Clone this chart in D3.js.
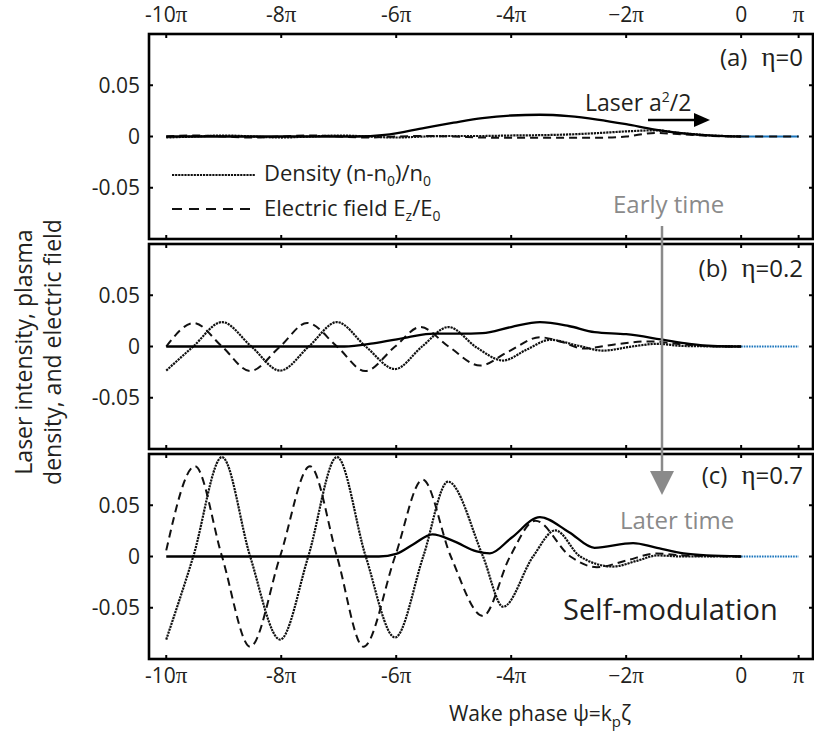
<!DOCTYPE html>
<html><head><meta charset="utf-8">
<script src="https://cdn.jsdelivr.net/npm/d3@7"></script>
<style>
body{margin:0;background:#fff}
svg{display:block}
text{font-family:'Open Sans',sans-serif;fill:#231f20}
</style>
</head><body>
<svg id="c" width="814" height="736"></svg>
<script>
// ---------- DATA (psi in units of pi) ----------
const xTicks = [-10, -8, -6, -4, -2, 0, 1];
const xTickLabels = ["-10", "-8", "-6", "-4", "\u22122", "0", ""];
const yTicks = [-0.05, 0, 0.05];
const yTickLabels = ["-0.05", "0", "0.05"];
const panelNames = ["(a)", "(b)", "(c)"];
const etaValues = ["0", "0.2", "0.7"];

// panel (a) eta = 0
const psiLaserA = [-10, -6.7, -6.2, -5.5, -5.0, -4.5, -4.0, -3.5, -3.0, -2.5, -2.0, -1.5, -1.0, -0.5, 0];
const laserA    = [0, 0, 0.0015, 0.0085, 0.0135, 0.018, 0.0205, 0.0212, 0.0198, 0.0165, 0.012, 0.0068, 0.003, 0.0008, 0];
const psiDensA  = [-10, -9.5, -9, -8.5, -8, -7.5, -7, -6.5, -6, -5.5, -5, -4.5, -4, -3.5, -3, -2.5, -2, -1.5, -1, -0.5, 0];
const densA     = [-0.001, 0, 0.001, 0, -0.001, 0, 0.001, 0, -0.001, 0, 0.0005, 0.0005, 0.001, 0.0013, 0.002, 0.0033, 0.005, 0.006, 0.003, 0.001, 0];
const psiEfA    = [-10, -9.5, -9, -8.5, -8, -7.5, -7, -6.5, -6, -5.5, -5, -4.5, -4, -3.5, -3, -2.5, -2, -1.5, -1, -0.5, 0];
const efA       = [0, 0.001, 0, -0.001, 0, 0.001, 0, -0.001, 0, 0.0005, 0, -0.001, -0.0013, -0.0013, -0.0013, -0.0012, 0.0, 0.0035, 0.002, 0.0005, 0];

// panel (b) eta = 0.2
const psiLaserB = [-10, -6.9, -6.4, -5.8, -5.35, -4.9, -4.5, -4.0, -3.5, -3.0, -2.55, -2.0, -1.4, -0.9, -0.5, 0];
const laserB    = [0, 0, 0.003, 0.009, 0.0125, 0.0125, 0.013, 0.019, 0.0238, 0.02, 0.014, 0.012, 0.007, 0.0025, 0.0005, 0];
const psiDensB  = [-10, -9.53, -9.03, -8.52, -8.02, -7.52, -7.03, -6.53, -6.02, -5.55, -5.09, -4.6, -4.14, -3.73, -3.32, -2.85, -2.4, -1.9, -1.46, -1.0, 0];
const densB     = [-0.0235, 0, 0.0238, 0, -0.0235, 0, 0.0238, 0, -0.022, 0, 0.019, -0.001, -0.0137, -0.003, 0.0066, 0.001, -0.004, 0, 0.0026, 0.0005, 0];
const psiEfB    = [-10, -9.52, -9.03, -8.54, -8.02, -7.55, -7.03, -6.54, -6.02, -5.58, -5.09, -4.54, -4.05, -3.5, -3.1, -2.75, -2.2, -1.6, -1.0, -0.5, 0];
const efB       = [0, 0.0229, 0, -0.024, 0, 0.023, 0, -0.024, 0, 0.019, 0, -0.0186, -0.005, 0.009, 0.004, -0.002, 0.002, 0.005, 0.002, 0.0003, 0];

// panel (c) eta = 0.7
const psiLaserC = [-10, -6.3, -6.0, -5.7, -5.37, -5.0, -4.6, -4.37, -4.0, -3.5, -3.0, -2.55, -1.88, -1.5, -1.0, -0.6, 0];
const laserC    = [0, 0, 0.0026, 0.012, 0.0216, 0.015, 0.005, 0.003, 0.018, 0.0385, 0.024, 0.0085, 0.013, 0.009, 0.003, 0.001, 0];
const psiDensC  = [-10, -9.53, -9.03, -8.54, -8.02, -7.53, -7.03, -6.53, -6.02, -5.53, -5.1, -4.49, -4.14, -3.62, -3.23, -2.8, -2.23, -1.8, -1.46, -1.0, 0];
const densC     = [-0.081, 0, 0.097, 0, -0.081, 0, 0.097, 0, -0.079, 0, 0.073, 0, -0.049, 0, 0.0255, 0, -0.0098, -0.004, 0.001, 0, 0];
const psiEfC    = [-10.0, -9.5, -9.03, -8.54, -8.02, -7.5, -7.03, -6.57, -6.02, -5.54, -5.05, -4.49, -4.02, -3.58, -2.97, -2.51, -2.0, -1.47, -1.0, 0];
const efC       = [0.006, 0.088, 0, -0.088, 0, 0.088, 0, -0.088, 0, 0.075, 0, -0.058, 0, 0.035, 0, -0.0105, -0.004, 0.003, 0.001, 0];

// tail beyond psi = 0
const psiTail = [0, 1];
const tailVal = [0, 0];

// ---------- LAYOUT ----------
const svg = d3.select("#c");
const x = d3.scaleLinear().domain([-10.3, 1.25]).range([149, 813]);
const panelTops = [34, 244, 454];
const PH = 205;
const zip = (a, b) => a.map((v, i) => [v, b[i]]);

const panels = [
  {laser: zip(psiLaserA, laserA), dens: zip(psiDensA, densA), ef: zip(psiEfA, efA)},
  {laser: zip(psiLaserB, laserB), dens: zip(psiDensB, densB), ef: zip(psiEfB, efB)},
  {laser: zip(psiLaserC, laserC), dens: zip(psiDensC, densC), ef: zip(psiEfC, efC)}
];

const densStyle = s => s.attr("fill", "none").attr("stroke", "#111").attr("stroke-width", 2.2).attr("stroke-dasharray", "2.2,0.9");

panels.forEach((p, i) => {
  const top = panelTops[i];
  const y = d3.scaleLinear().domain([-0.1, 0.1]).range([top + PH, top]);
  const line = d3.line().x(d => x(d[0])).y(d => y(d[1])).curve(d3.curveMonotoneX);
  const g = svg.append("g");
  const tail = zip(psiTail, tailVal);

  // blue tail
  if (i === 0) {
    g.append("path").attr("d", line(tail)).attr("fill", "none")
      .attr("stroke", "#1a75bc").attr("stroke-width", 2);
    g.append("path").attr("d", line(tail)).attr("fill", "none")
      .attr("stroke", "#111").attr("stroke-width", 2).attr("stroke-dasharray", "8,6");
  } else {
    g.append("path").attr("d", line(tail)).attr("fill", "none")
      .attr("stroke", "#1a75bc").attr("stroke-width", 2).attr("stroke-dasharray", "1.6,1");
  }

  g.append("path").attr("d", line(p.ef)).attr("fill", "none")
    .attr("stroke", "#111").attr("stroke-width", 2).attr("stroke-dasharray", "8,5");
  g.append("path").attr("d", line(p.dens)).call(densStyle);
  g.append("path").attr("d", line(p.laser)).attr("fill", "none")
    .attr("stroke", "#000").attr("stroke-width", 2.3);

  // frame
  g.append("rect").attr("x", x.range()[0]).attr("y", top)
    .attr("width", x.range()[1] - x.range()[0]).attr("height", PH)
    .attr("fill", "none").attr("stroke", "#000").attr("stroke-width", 2.6);

  // x ticks (top & bottom, inward)
  xTicks.forEach(t => {
    g.append("line").attr("x1", x(t)).attr("x2", x(t)).attr("y1", top).attr("y2", top + 4)
      .attr("stroke", "#000").attr("stroke-width", 2);
    g.append("line").attr("x1", x(t)).attr("x2", x(t)).attr("y1", top + PH).attr("y2", top + PH - 4)
      .attr("stroke", "#000").attr("stroke-width", 2);
  });
  // y ticks (left & right)
  yTicks.forEach((t, k) => {
    g.append("line").attr("x1", x.range()[0]).attr("x2", x.range()[0] + 4).attr("y1", y(t)).attr("y2", y(t))
      .attr("stroke", "#000").attr("stroke-width", 2);
    g.append("line").attr("x1", x.range()[1]).attr("x2", x.range()[1] - 4).attr("y1", y(t)).attr("y2", y(t))
      .attr("stroke", "#000").attr("stroke-width", 2);
    g.append("text").attr("x", 140).attr("y", y(t)).attr("dy", "0.35em")
      .attr("text-anchor", "end").attr("font-size", 21).text(yTickLabels[k]);
  });

  // panel label
  const pl = g.append("text").attr("x", 803).attr("y", top + [32, 33, 30][i])
    .attr("text-anchor", "end").attr("font-size", 24);
  pl.append("tspan").text(panelNames[i]);
  pl.append("tspan").attr("dx", 14).attr("font-family", "'Liberation Serif',serif").attr("font-size", 27).text("\u03b7");
  pl.append("tspan").text("=" + etaValues[i]);
});

// x tick labels top & bottom
function tickLabel(t, k, yy) {
  const tx = svg.append("text").attr("x", x(t)).attr("y", yy)
    .attr("text-anchor", "middle").attr("font-size", 21);
  tx.append("tspan").text(xTickLabels[k]);
  if (t !== 0) tx.append("tspan").attr("font-family", "'Liberation Serif',serif").attr("font-size", 23).text("\u03c0");
}
xTicks.forEach((t, k) => { tickLabel(t, k, 22); tickLabel(t, k, 683); });

// axis titles
const xt = svg.append("text").attr("x", 540).attr("y", 721).attr("text-anchor", "middle").attr("font-size", 21);
xt.append("tspan").text("Wake phase \u03c8=k");
xt.append("tspan").attr("font-size", 15).attr("dy", 6).text("p");
xt.append("tspan").attr("dy", -6).text("\u03b6");

const yt = svg.append("g").attr("transform", "translate(0,352) rotate(-90)");
yt.append("text").attr("x", 0).attr("y", 32).attr("text-anchor", "middle").attr("font-size", 23)
  .text("Laser intensity, plasma");
yt.append("text").attr("x", 0).attr("y", 61).attr("text-anchor", "middle").attr("font-size", 23)
  .text("density, and electric field");

// legend (panel a)
svg.append("line").attr("x1", 172).attr("x2", 255).attr("y1", 175).attr("y2", 175).call(densStyle);
svg.append("line").attr("x1", 172).attr("x2", 255).attr("y1", 209).attr("y2", 209)
  .attr("stroke", "#111").attr("stroke-width", 2).attr("stroke-dasharray", "10,7");
const l1 = svg.append("text").attr("x", 264).attr("y", 181).attr("font-size", 22);
l1.append("tspan").text("Density (n-n");
l1.append("tspan").attr("font-size", 14).attr("dy", 5).text("0");
l1.append("tspan").attr("dy", -5).text(")/n");
l1.append("tspan").attr("font-size", 14).attr("dy", 5).text("0");
const l2 = svg.append("text").attr("x", 264).attr("y", 216).attr("font-size", 22);
l2.append("tspan").text("Electric field E");
l2.append("tspan").attr("font-size", 14).attr("dy", 5).text("z");
l2.append("tspan").attr("dy", -5).text("/E");
l2.append("tspan").attr("font-size", 14).attr("dy", 5).text("0");

// Laser a^2/2 annotation and arrow
const la = svg.append("text").attr("x", 585).attr("y", 111).attr("font-size", 23);
la.append("tspan").text("Laser a");
la.append("tspan").attr("font-size", 14).attr("dy", -9).text("2");
la.append("tspan").attr("dy", 9).text("/2");
svg.append("line").attr("x1", 648).attr("x2", 697).attr("y1", 120).attr("y2", 120)
  .attr("stroke", "#000").attr("stroke-width", 2.5);
svg.append("path").attr("d", "M710,120 L694,113 L694,127 Z").attr("fill", "#000");

// Early time / Later time arrow
const grey = "#8a8a8a";
svg.append("text").attr("x", 613).attr("y", 213).attr("font-size", 24).style("fill", grey).text("Early time");
svg.append("line").attr("x1", 662).attr("x2", 662).attr("y1", 226).attr("y2", 474)
  .attr("stroke", grey).attr("stroke-width", 2.5);
svg.append("path").attr("d", "M662,495 L650,471 L674,471 Z").attr("fill", grey);
svg.append("text").attr("x", 620).attr("y", 529).attr("font-size", 24).style("fill", grey).text("Later time");

svg.append("text").attr("x", 563).attr("y", 620).attr("font-size", 29).text("Self-modulation");
</script>
</body></html>
